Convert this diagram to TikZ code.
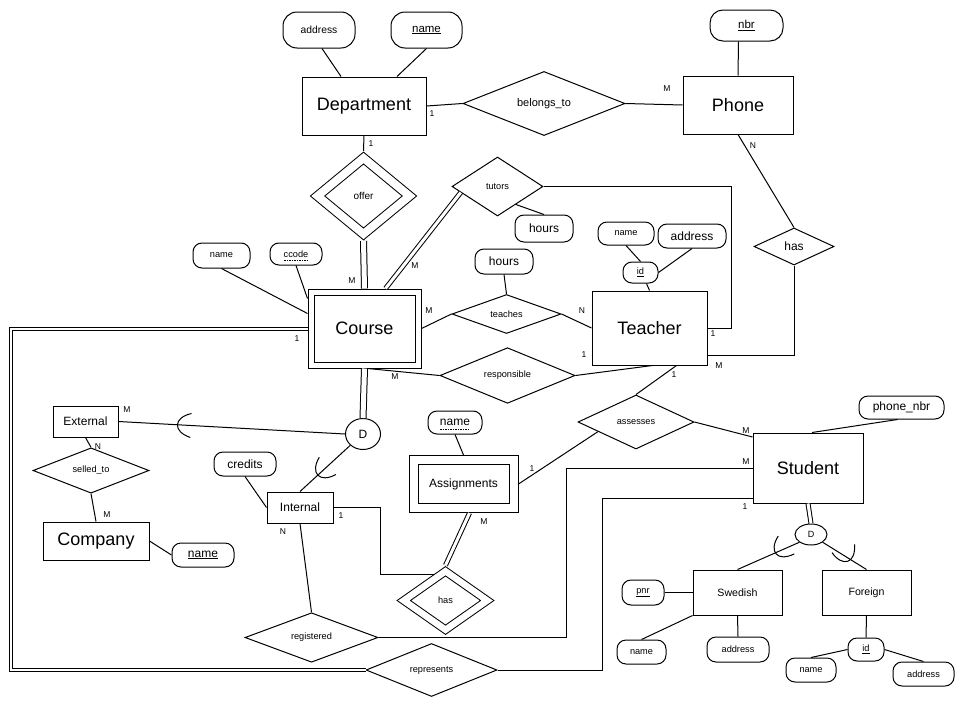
\documentclass[tikz,border=0pt]{standalone}
\usepackage{fontspec}
\setmainfont{Liberation Sans}
\usetikzlibrary{shapes.geometric,calc}

\tikzset{
    isamark/.pic={\draw (9,-12) .. controls (-9,-7) and (-9,7) .. (9,12);}
}

\begin{document}
\begin{tikzpicture}[x=1pt,y=-1pt,line width=1pt,
        bigtext/.style={font=\fontsize{18}{20}\selectfont},
        midtext/.style={font=\fontsize{12}{14}\selectfont},
        smalltext/.style={font=\fontsize{9.2}{11}\selectfont},
        entity/.style={draw,rectangle,inner sep=0pt},
        weakent/.style={entity,double,double distance=5pt,outer sep=3.5pt},
        rel/.style={draw,diamond,inner sep=0pt,smalltext},
        weakrel/.style={rel,double,double distance=8pt,outer sep=5pt},
        attr/.style={draw,rectangle,rounded corners=9pt,inner sep=0pt},
        disj/.style={draw,ellipse,inner sep=0pt},
        card/.style={inner sep=0pt,font=\fontsize{8.5}{10}\selectfont},
        partkey/.style={line width=0.5pt,dash pattern=on 1.5pt off 1pt},
        dbl/.style={double,double distance=3pt}]

        \fill[white] (0,0) rectangle (960,720);
        \useasboundingbox (0,0) rectangle (960,720);

        % Entitaeten
        \node[entity,bigtext,minimum width=124,minimum height=58] (dept) at (364,106) {Department};
        \node[entity,bigtext,minimum width=110,minimum height=58] (phone) at (738,105) {Phone};
        \node[weakent,bigtext,minimum width=107,minimum height=73] (course) at (364.5,328.5) {Course};
        \node[entity,bigtext,minimum width=115,minimum height=74] (teacher) at (649.5,328) {Teacher};
        \node[entity,bigtext,minimum width=110,minimum height=70] (student) at (808,468) {Student};
        \node[entity,bigtext,minimum width=106,minimum height=38] (company) at (96,541) {Company};
        \node[entity,midtext,minimum width=65,minimum height=31] (external) at (85.5,421.5) {External};
        \node[entity,midtext,minimum width=66,minimum height=31] (internal) at (300,507.5) {Internal};
        \node[weakent,midtext,double distance=8pt,outer sep=5pt,minimum width=100,minimum height=48] (assign) at (463.5,484) {Assignments};
        \node[entity,font=\fontsize{10.6}{12}\selectfont,minimum width=89,minimum height=45] (swedish) at (737.5,592.5) {Swedish};
        \node[entity,font=\fontsize{10.6}{12}\selectfont,minimum width=89,minimum height=45] (foreign) at (866.5,592.5) {Foreign};
        \node[disj,midtext,minimum width=35,minimum height=31] (dCourse) at (363,434) {D};
        \node[disj,font=\fontsize{9}{10}\selectfont,minimum width=32,minimum height=21] (dStudent) at (811,534.5) {D};

        % Beziehungen
        \node[rel,font=\fontsize{11}{13}\selectfont,minimum width=162,minimum height=61] (belongs) at (544,103.5) {belongs\_to};
        \node[rel,midtext,minimum width=80,minimum height=37] (hasPh) at (794,246.5) {has};
        \node[weakrel,font=\fontsize{10}{12}\selectfont,minimum width=96,minimum height=80] (offer) at (363.5,196) {offer};
        \node[rel,minimum width=91,minimum height=59] (tutors) at (497.5,186.5) {tutors};
        \node[rel,minimum width=109,minimum height=32] (teaches) at (506.5,314) {teaches};
        \node[rel,minimum width=135,minimum height=35] (resp) at (507.5,375.5) {responsible};
        \node[rel,minimum width=116,minimum height=33] (selled) at (91,470.5) {selled\_to};
        \node[rel,minimum width=133,minimum height=31] (registered) at (311.5,637.5) {registered};
        \node[rel,minimum width=131,minimum height=53] (represents) at (431.5,670) {represents};
        \node[weakrel,double distance=6.5pt,outer sep=4.25pt,minimum width=87,minimum height=62] (hasAs) at (445.5,600.5) {has};
        \node[rel,minimum width=116,minimum height=54] (assesses) at (636,422) {assesses};

        % Attribute
        \node[attr,rounded corners=14pt,font=\fontsize{10.3}{12}\selectfont,minimum width=72,minimum height=36] (dAddr) at (319,30) {address};
        \node[attr,rounded corners=14pt,font=\fontsize{11.5}{13}\selectfont,minimum width=71,minimum height=36] (dName) at (426.5,30) {\underline{name}};
        \node[attr,rounded corners=13pt,font=\fontsize{11.5}{13}\selectfont,minimum width=73,minimum height=31] (pNbr) at (746.5,25.5) {\underline{nbr}};
        \node[attr,smalltext,minimum width=57,minimum height=25] (cName) at (221.5,255.5) {name};
        \node[attr,smalltext,minimum width=52,minimum height=22] (cCode) at (296,254) {ccode};
        \node[attr,midtext,minimum width=58,minimum height=27] (tHours) at (544,228.5) {hours};
        \node[attr,midtext,minimum width=58,minimum height=25] (teHours) at (504,261.5) {hours};
        \node[attr,smalltext,minimum width=56,minimum height=23] (tName) at (626,233.5) {name};
        \node[attr,midtext,minimum width=68,minimum height=24] (tAddr) at (692,236) {address};
        \node[attr,smalltext,minimum width=35,minimum height=21] (tId) at (640.5,272.5) {\underline{id}};
        \node[attr,midtext,minimum width=62,minimum height=24] (credits) at (245,464) {credits};
        \node[attr,midtext,minimum width=62,minimum height=24] (compName) at (203,555) {\underline{name}};
        \node[attr,midtext,minimum width=54,minimum height=23] (aName) at (455,422.5) {name};
        \node[attr,midtext,minimum width=85,minimum height=23] (phoneNbr) at (901.5,407.5) {phone\_nbr};
        \node[attr,smalltext,minimum width=42,minimum height=25] (pnr) at (643,592.5) {\underline{pnr}};
        \node[attr,smalltext,minimum width=49,minimum height=24] (sName) at (641.5,652) {name};
        \node[attr,smalltext,minimum width=62,minimum height=25] (sAddr) at (738,649.5) {address};
        \node[attr,smalltext,minimum width=36,minimum height=23] (fId) at (866,649.5) {\underline{id}};
        \node[attr,smalltext,minimum width=50,minimum height=24] (fName) at (811,670) {name};
        \node[attr,smalltext,minimum width=61,minimum height=24] (fAddr) at (923.5,674) {address};

        % Teilschluessel
        \draw[partkey] ([xshift=-12pt,yshift=-6pt]cCode.center) -- ([xshift=12pt,yshift=-6pt]cCode.center);
        \draw[partkey] ([xshift=-15pt,yshift=-7pt]aName.center) -- ([xshift=15pt,yshift=-7pt]aName.center);

        % Attribut-Linien
        \draw ([xshift=3pt]dAddr.south) -- ([xshift=-23pt]dept.north);
        \draw (dName.south) -- ([xshift=33pt]dept.north);
        \draw ([xshift=-8pt]pNbr.south) -- (phone.north);
        \draw (cName.south) -- ([yshift=15pt]course.west);
        \draw (cCode.south) -- ([yshift=30pt]course.west);
        \draw ($(tutors.south)!0.4!(tutors.east)$) -- (tHours.north);
        \draw (teHours.south) -- (teaches.north);
        \draw ([xshift=6pt]tId.south) -- (teacher.north);
        \draw (tName.south) -- (tId.north);
        \draw (tAddr.south) -- (tId.east);
        \draw (credits.south) -- (internal.west);
        \draw (compName.west) -- (company.east);
        \draw (aName.south) -- (assign.north);
        \draw ([xshift=-4pt]phoneNbr.south) -- ([xshift=4pt]student.north);
        \draw (pnr.east) -- (swedish.west);
        \draw (sName.north) -- (swedish.south west);
        \draw (sAddr.north) -- (swedish.south);
        \draw (fId.north) -- (foreign.south);
        \draw (fName.north) -- (fId.west);
        \draw (fAddr.north) -- (fId.east);

        % Relationen
        \draw (dept.east) -- (belongs.west);
        \draw (belongs.east) -- (phone.west);
        \draw (phone.south) -- (hasPh.north);
        \draw (hasPh.south) |- ([yshift=-27pt]teacher.east);
        \draw (dept.south) -- (offer.north);
        \draw[dbl,double distance=5pt] (offer.south) -- (course.north);
        \draw[dbl] ([xshift=21pt]course.north) -- ($(tutors.west)!0.2!(tutors.south)$);
        \draw (tutors.east) -| ([xshift=24pt]teacher.east) -- (teacher.east);
        \draw (course.east) -- (teaches.west);
        \draw (teaches.east) -- (teacher.west);
        \draw ([xshift=3pt]course.south) -- (resp.west);
        \draw (resp.east) -- ([xshift=3pt]teacher.south);
        \draw[dbl,double distance=5pt] (course.south) -- (dCourse.north);
        \draw[dbl,double distance=2pt] (course.west) -- ++(-296.5,0) |- (represents.west);
        \draw (represents.east) -- ++(105,0) |- ([yshift=-30pt]student.west);
        \draw (dCourse.west) -- (external.east);
        \draw (dCourse.south west) -- (internal.north);
        \draw (external.south) -- (selled.north);
        \draw (selled.south) -- (company.north);
        \draw (internal.south) -- (registered.north);
        \draw (registered.east) -- ++(188,0) |- (student.west);
        \draw (internal.east) -- ++(47,0) |- ($(hasAs.west)!0.75!(hasAs.north)$);
        \draw[dbl] ([xshift=6pt]assign.south) -- (hasAs.north);
        \draw (assign.east) -- ($(assesses.west)!0.35!(assesses.south)$);
        \draw (assesses.north) -- ([xshift=27pt]teacher.south);
        \draw (assesses.east) -- ([yshift=31pt]student.west);
        \draw[dbl] (student.south) -- (dStudent.north);
        \draw (dStudent.south west) -- (swedish.north);
        \draw (dStudent.south east) -- (foreign.north);

        % Teilmengen
        \pic[rotate=-3] at ($(external.east)!0.28!(dCourse.west)$) {isamark};
        \pic[rotate=44] at ($(internal.north)!0.42!(dCourse.south west)$) {isamark};
        \pic[rotate=42] at ($(swedish.north)!0.68!(dStudent.south west)$) {isamark};
        \pic[rotate=110] at ($(foreign.north)!0.46!(dStudent.south east)$) {isamark};

        % Kardinalitaeten
        \node[card] (kDeptBel) at (432,114) {1};
        \node[card] (kDeptOff) at (371,144) {1};
        \node[card] (kPhoneBel) at (667,89) {M};
        \node[card] (kPhoneHas) at (753,146) {N};
        \node[card] (kCourseOff) at (352,281) {M};
        \node[card] (kCourseTut) at (415,266) {M};
        \node[card] (kCourseTea) at (429,311) {M};
        \node[card] (kCourseRes) at (395,377) {M};
        \node[card] (kCourseRep) at (297,339) {1};
        \node[card] (kTeacherTea) at (582,311) {N};
        \node[card] (kTeacherTut) at (713,334) {1};
        \node[card] (kTeacherRes) at (584,355) {1};
        \node[card] (kTeacherHas) at (719,366) {M};
        \node[card] (kTeacherAss) at (674,375) {1};
        \node[card] (kExtD) at (127,410) {M};
        \node[card] (kExtSel) at (98,447) {N};
        \node[card] (kCompSel) at (107,515) {M};
        \node[card] (kIntHas) at (341,516) {1};
        \node[card] (kIntReg) at (283,532) {N};
        \node[card] (kAssAss) at (532,469) {1};
        \node[card] (kAssHas) at (484,522) {M};
        \node[card] (kStudAss) at (746,431) {M};
        \node[card] (kStudReg) at (746,462) {M};
        \node[card] (kStudRep) at (745,507) {1};
\end{tikzpicture}
\end{document}
